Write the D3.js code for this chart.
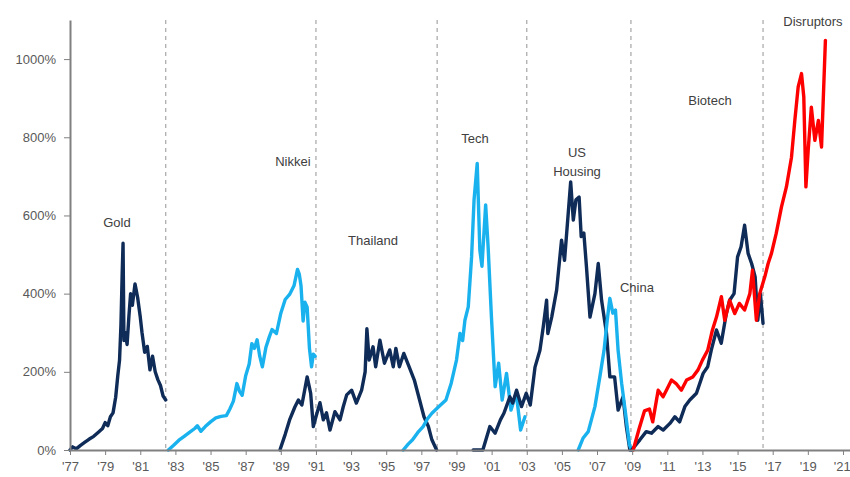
<!DOCTYPE html>
<html lang="en">
<head>
  <meta charset="UTF-8">
  <title>Bubbles compared</title>
  <script src="https://d3js.org/d3.v7.min.js"></script>
  <style>
    body { margin: 0; background: #fff; }
    svg { display: block; font-family: "Liberation Sans", Arial, sans-serif; }
    .axis path, .axis line { stroke: #808080; }
    .axis text { fill: #595959; font-size: 13px; }
    .bubble-label { fill: #404040; font-size: 13px; }
    .series { fill: none; stroke-width: 3.4; stroke-linejoin: round; stroke-linecap: round; }
  </style>
</head>
<body>
  <div id="chart"></div>

  <script>
    // each series: [year, % gain from start]
    const gold = [[1977.0,0],[1977.15,8],[1977.35,3],[1977.6,12],[1977.85,20],[1978.1,28],[1978.35,35],[1978.6,45],
      [1978.85,55],[1979.0,70],[1979.15,62],[1979.3,85],[1979.45,95],[1979.6,135],[1979.72,190],[1979.82,230],
      [1979.9,320],[1979.97,450],[1980.02,529],[1980.07,280],[1980.15,300],[1980.25,270],[1980.35,340],[1980.45,400],
      [1980.55,370],[1980.7,425],[1980.85,390],[1981.0,340],[1981.1,300],[1981.25,250],[1981.4,265],[1981.55,205],
      [1981.7,240],[1981.85,200],[1982.0,180],[1982.15,165],[1982.3,138],[1982.45,128]];

    const nikkei = [[1982.6,0],[1982.9,12],[1983.2,25],[1983.5,35],[1983.8,45],[1984.1,55],[1984.25,62],[1984.45,48],
      [1984.7,60],[1985.0,72],[1985.3,82],[1985.6,86],[1985.9,88],[1986.1,105],[1986.3,125],[1986.5,170],[1986.65,150],
      [1986.8,140],[1987.0,190],[1987.2,220],[1987.35,272],[1987.5,260],[1987.65,282],[1987.8,240],[1987.95,213],
      [1988.15,262],[1988.35,290],[1988.5,308],[1988.75,298],[1989.0,350],[1989.25,385],[1989.5,398],[1989.75,420],
      [1989.95,462],[1990.05,450],[1990.15,420],[1990.27,330],[1990.37,378],[1990.5,365],[1990.63,260],[1990.75,213],
      [1990.85,245],[1990.95,240]];

    const thailand = [[1988.95,0],[1989.25,40],[1989.5,77],[1989.8,110],[1990.0,128],[1990.2,115],[1990.5,187],
      [1990.7,145],[1990.85,60],[1991.0,85],[1991.23,121],[1991.42,77],[1991.6,95],[1991.8,51],[1992.08,98],[1992.37,77],
      [1992.55,110],[1992.75,141],[1993.03,153],[1993.3,120],[1993.6,153],[1993.8,200],[1993.9,310],[1994.03,230],
      [1994.25,264],[1994.4,213],[1994.64,281],[1994.9,222],[1995.2,256],[1995.4,213],[1995.55,260],[1995.75,213],
      [1996.0,247],[1996.3,213],[1996.6,179],[1996.9,128],[1997.15,85],[1997.4,60],[1997.6,26],[1997.87,0]];

    const tech = [[1995.97,0],[1996.25,15],[1996.5,26],[1996.8,45],[1997.1,60],[1997.35,80],[1997.6,94],[1998.0,111],
      [1998.4,128],[1998.7,171],[1999.0,230],[1999.2,298],[1999.35,280],[1999.48,332],[1999.67,366],[1999.86,494],
      [2000.0,640],[2000.18,733],[2000.33,511],[2000.45,470],[2000.66,627],[2000.8,520],[2000.99,340],[2001.2,162],
      [2001.4,222],[2001.6,128],[2001.85,196],[2002.1,102],[2002.4,145],[2002.65,51],[2002.9,85]];

    const usHousing = [[1999.95,0],[2000.5,0],[2000.9,60],[2001.2,43],[2001.5,77],[2001.7,94],[2002.04,136],[2002.2,120],
      [2002.42,153],[2002.7,111],[2002.97,145],[2003.2,115],[2003.47,212],[2003.75,255],[2003.94,315],[2004.13,383],
      [2004.2,298],[2004.42,340],[2004.7,409],[2004.98,537],[2005.15,485],[2005.36,605],[2005.5,686],[2005.65,588],
      [2005.8,640],[2005.98,647],[2006.1,546],[2006.25,555],[2006.4,468],[2006.6,340],[2006.88,400],[2007.07,477],
      [2007.26,383],[2007.54,298],[2007.73,187],[2008.0,187],[2008.2,102],[2008.48,136],[2008.67,60],[2008.87,0]];

    const china = [[2005.93,0],[2006.2,30],[2006.5,47],[2006.88,111],[2007.16,187],[2007.4,255],[2007.58,332],
      [2007.73,388],[2007.9,350],[2008.05,358],[2008.2,255],[2008.4,171],[2008.6,102],[2008.85,13],[2008.97,0]];

    const biotech = [[2008.97,0],[2009.44,26],[2009.8,47],[2010.1,43],[2010.48,60],[2010.77,51],[2011.15,68],
      [2011.43,85],[2011.7,72],[2012.0,111],[2012.28,128],[2012.66,145],[2013.04,196],[2013.3,213],[2013.5,255],
      [2013.8,307],[2014.07,273],[2014.36,349],[2014.55,383],[2014.8,400],[2015.0,494],[2015.2,520],[2015.4,575],
      [2015.6,503],[2015.8,477],[2016.0,443],[2016.15,332],[2016.3,400],[2016.45,324]];

    const disruptors = [[2009.06,0],[2009.4,55],[2009.7,100],[2009.98,105],[2010.17,72],[2010.48,153],[2010.76,136],
      [2010.95,153],[2011.24,179],[2011.5,170],[2011.8,153],[2012.1,179],[2012.45,187],[2012.75,205],[2013.0,230],
      [2013.3,255],[2013.57,307],[2013.8,340],[2014.08,392],[2014.27,332],[2014.55,383],[2014.84,349],[2015.1,375],
      [2015.4,358],[2015.7,400],[2015.85,460],[2016.07,332],[2016.26,400],[2016.55,443],[2016.74,477],[2016.93,503],
      [2017.2,554],[2017.5,622],[2017.78,673],[2018.07,749],[2018.26,843],[2018.45,929],[2018.64,963],[2018.77,903],
      [2018.89,673],[2019.02,767],[2019.2,877],[2019.4,792],[2019.6,843],[2019.78,775],[2020.0,1048]];

    const seriesData = [gold, nikkei, thailand, tech, usHousing, china, biotech, disruptors];
    const seriesKind = ["dark", "light", "dark", "light", "dark", "light", "dark", "red"];

    // label lines and where they sit in chart units [year, %]
    const labelLines = [["Gold"], ["Nikkei"], ["Thailand"], ["Tech"], ["US", "Housing"], ["China"], ["Biotech"], ["Disruptors"]];
    const labelAt = [[1979.67, 583], [1989.69, 737], [1994.25, 537], [2000.05, 798], [2005.86, 737],
      [2009.27, 417], [2013.43, 895], [2019.29, 1097]];

    // bubble boundaries (dashed)
    const dividers = [1982.45, 1991.0, 1997.9, 2003.0, 2008.93, 2016.45];

    const yTicks = [0, 200, 400, 600, 800, 1000];
    const xTicks = d3.range(1977, 2022, 2);

    const width = 850, height = 477;
    const margin = { top: 20, right: 0, bottom: 27, left: 70 };

    const svg = d3.select("#chart").append("svg")
      .attr("width", width)
      .attr("height", height);

    const x = d3.scaleLinear()
      .domain([1977, 2021.4])
      .range([margin.left, width - margin.right]);

    const y = d3.scaleLinear()
      .domain([0, 1100])
      .range([height - margin.bottom, margin.top]);

    const color = d3.scaleOrdinal()
      .domain(["dark", "light", "red"])
      .range(["#0f2b57", "#1ab2ee", "#ff0000"]);

    // dashed dividers
    svg.append("g").selectAll("line")
      .data(dividers)
      .enter().append("line")
        .attr("x1", d => x(d)).attr("x2", d => x(d))
        .attr("y1", y(1100)).attr("y2", y(0))
        .attr("stroke", "#a6a6a6")
        .attr("stroke-width", 1.2)
        .attr("stroke-dasharray", "4,4");

    // series lines
    const line = d3.line()
      .x(d => x(d[0]))
      .y(d => y(d[1]));

    svg.append("g").selectAll("path")
      .data(seriesData)
      .enter().append("path")
        .attr("class", "series")
        .attr("stroke", (d, i) => color(seriesKind[i]))
        .attr("d", line);

    // axes
    const xAxis = svg.append("g")
      .attr("class", "axis")
      .attr("transform", "translate(0," + y(0) + ")")
      .call(d3.axisBottom(x)
        .tickValues(xTicks)
        .tickSize(5)
        .tickSizeOuter(0)
        .tickPadding(7)
        .tickFormat(d => "'" + String(d).slice(2)))
      .call(g => g.select(".domain").attr("stroke-width", 2));

    // last label sits against the right edge
    xAxis.selectAll(".tick text")
      .filter(d => d === 2021)
      .attr("text-anchor", "end")
      .attr("dx", "0.55em");

    svg.append("g")
      .attr("class", "axis")
      .attr("transform", "translate(" + x(1977) + ",0)")
      .call(d3.axisLeft(y)
        .tickValues(yTicks)
        .tickSize(6)
        .tickSizeOuter(0)
        .tickPadding(8)
        .tickFormat(d => d + "%"))
      .call(g => g.select(".domain").attr("stroke-width", 2));

    // bubble labels
    const labels = svg.append("g").selectAll("text")
      .data(labelLines)
      .enter().append("text")
        .attr("class", "bubble-label")
        .attr("text-anchor", "middle")
        .attr("x", (d, i) => x(labelAt[i][0]))
        .attr("y", (d, i) => y(labelAt[i][1]));

    labels.selectAll("tspan")
      .data(d => d.map((t, j) => ({ t, j, n: d.length })))
      .enter().append("tspan")
        .attr("x", function () { return this.parentNode.getAttribute("x"); })
        .attr("dy", d => d.j === 0 ? (0.35 - (d.n - 1) * 0.7) + "em" : "1.4em")
        .text(d => d.t);
  </script>
</body>
</html>
